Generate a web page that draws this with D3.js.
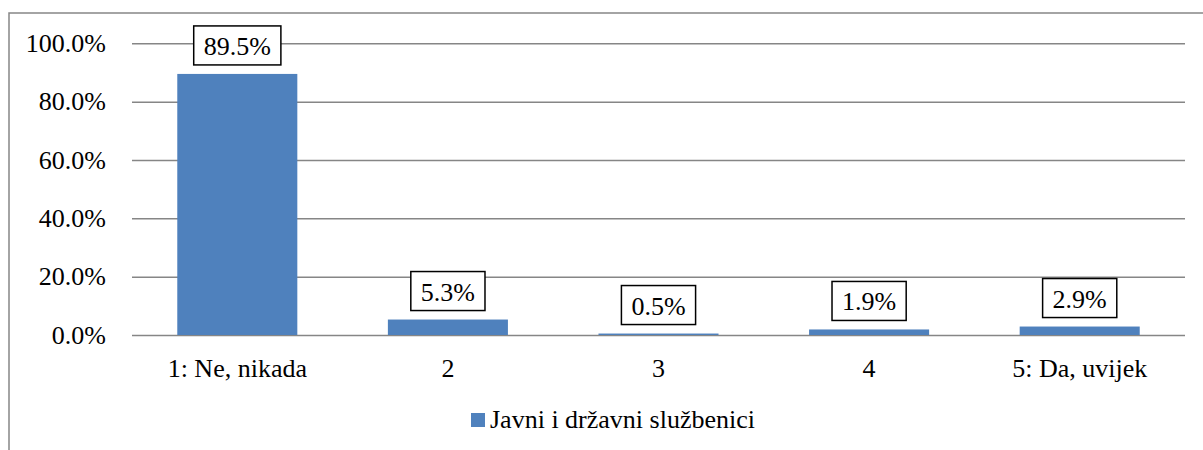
<html>
<head>
<script src="https://d3js.org/d3.v7.min.js"></script>
<style>
body { margin: 0; background: #fff; }
</style>
</head>
<body>
<script>
var categories = ["1: Ne, nikada", "2", "3", "4", "5: Da, uvijek"];
var values = [89.5, 5.3, 0.5, 1.9, 2.9];
var yTicks = [0, 20, 40, 60, 80, 100];
var seriesName = "Javni i državni službenici";

var width = 1203, height = 450;
var plotLeft = 132, plotRight = 1185, plotTop = 43.3, plotBottom = 335;
var fontFam = "'Liberation Serif', 'Times New Roman', serif";

var svg = d3.select("body").append("svg")
  .attr("width", width)
  .attr("height", height)
  .attr("font-family", fontFam);

// chart frame
svg.append("rect")
  .attr("x", 9).attr("y", 13)
  .attr("width", 1210).attr("height", 460)
  .attr("fill", "none")
  .attr("stroke", "#868686")
  .attr("stroke-width", 1.5);

var x = d3.scaleBand()
  .domain(categories)
  .range([plotLeft, plotRight])
  .paddingInner(0.43)
  .paddingOuter(0.215);

var y = d3.scaleLinear()
  .domain([0, 100])
  .range([plotBottom, plotTop]);

// gridlines + y labels
var yAxis = d3.axisLeft(y)
  .tickValues(yTicks)
  .tickSize(-(plotRight - plotLeft))
  .tickPadding(26)
  .tickFormat(function(d) { return d.toFixed(1) + "%"; });

var gy = svg.append("g")
  .attr("transform", "translate(" + plotLeft + ",0)")
  .call(yAxis)
  .attr("font-family", fontFam);
gy.select(".domain").remove();
gy.selectAll(".tick line").attr("stroke", "#868686").attr("stroke-width", 1.5);
gy.selectAll(".tick text")
  .attr("fill", "#000")
  .style("font-size", "26px");

// bars
svg.selectAll("rect.bar")
  .data(values)
  .enter().append("rect")
  .attr("class", "bar")
  .attr("x", function(d, i) { return x(categories[i]); })
  .attr("width", x.bandwidth())
  .attr("y", function(d) { return y(d); })
  .attr("height", function(d) { return y(0) - y(d); })
  .attr("fill", "#4F81BD");

// x axis labels
var xAxis = d3.axisBottom(x).tickSize(0).tickPadding(24);
var gx = svg.append("g")
  .attr("transform", "translate(0," + plotBottom + ")")
  .call(xAxis)
  .attr("font-family", fontFam);
gx.select(".domain").remove();
gx.selectAll(".tick text")
  .attr("fill", "#000")
  .style("font-size", "26px");

// data labels in boxes
var labels = svg.selectAll("g.lbl")
  .data(values)
  .enter().append("g")
  .attr("class", "lbl")
  .attr("transform", function(d, i) {
    return "translate(" + (x(categories[i]) + x.bandwidth() / 2) + "," + (y(d) - 9) + ")";
  });

labels.append("text")
  .attr("text-anchor", "middle")
  .attr("y", -10)
  .attr("font-family", fontFam)
  .style("font-size", "26px")
  .text(function(d) { return d.toFixed(1) + "%"; });

labels.each(function() {
  var g = d3.select(this);
  var bb = g.select("text").node().getBBox();
  g.insert("rect", "text")
    .attr("x", bb.x - 10)
    .attr("y", -39)
    .attr("width", bb.width + 20)
    .attr("height", 39)
    .attr("fill", "#fff")
    .attr("stroke", "#000")
    .attr("stroke-width", 1.5);
});

// legend
var legend = svg.append("g").attr("transform", "translate(471,413)");
legend.append("rect")
  .attr("width", 14).attr("height", 14)
  .attr("fill", "#4F81BD");
legend.append("text")
  .attr("x", 19).attr("y", 15)
  .attr("font-family", fontFam)
  .style("font-size", "26px")
  .text(seriesName);
</script>
</body>
</html>
